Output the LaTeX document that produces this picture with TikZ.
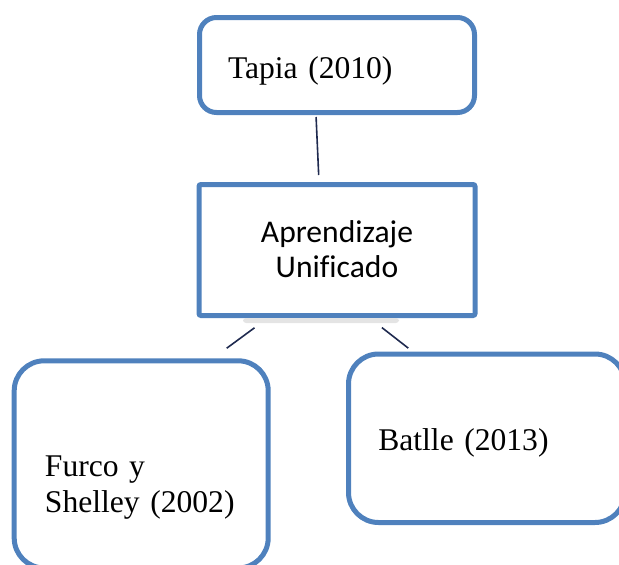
\documentclass[tikz,border=0pt]{standalone}
\usepackage{fontspec}
\setmainfont{Liberation Serif}
\newfontfamily\calibri[Ligatures=NoCommon]{Carlito}
\usepackage{xcolor}
\usepackage{tikz}
\usetikzlibrary{positioning}
\definecolor{boxblue}{HTML}{4F81BD}
\definecolor{linknavy}{HTML}{1F2A4F}
\definecolor{shadowgray}{HTML}{E4E4E4}

\begin{document}
\begin{tikzpicture}[x=1pt, y=-1pt,
  refbox/.style={draw=boxblue, line width=5pt, rounded corners=30pt, align=left, inner ysep=0pt,
    font=\fontsize{31.6}{35.5}\selectfont},
  link/.style={draw=linknavy, line width=1.6pt}]
\useasboundingbox (0,0) rectangle (619,565);
\node[refbox, rounded corners=17pt, minimum width=275pt, minimum height=95pt, text width=218pt,
  inner xsep=28.5pt, text height=30pt, text depth=4pt] (tapia) at (337,65) {Tapia (2010)};
\node[refbox, rounded corners=2pt, align=center, font=\calibri\fontsize{31.6}{34.5}\selectfont,
  minimum width=276pt, minimum height=131pt, text width=236pt, inner xsep=20pt,
  text height=20pt, text depth=34.6pt, below=67pt of tapia] (apr) {Aprendizaje\\Unificado};
\node[refbox, minimum width=254pt, minimum height=207.2pt, text width=192.4pt, inner xsep=30.8pt,
  text height=36pt, text depth=11.4pt] (furco) at (141.2,464.4) {Furco y\\Shelley (2002)};
\node[refbox, minimum width=276.5pt, minimum height=168.5pt, text width=216.9pt, inner xsep=29.8pt,
  text height=28pt, text depth=4.5pt] (batlle) at (486.75,438.25) {Batlle (2013)};
\fill[shadowgray, rounded corners=3pt] ([xshift=-94pt]apr.south) rectangle ([xshift=62pt,yshift=-5pt]apr.south);
\draw[link, shorten <=2pt, shorten >=7pt] ([xshift=-21pt]tapia.south) -- ([xshift=-18pt]apr.north);
\draw[link, shorten <=16.5pt, shorten >=17pt] ([xshift=-69.2pt]apr.south) -- ([xshift=71.8pt]furco.north);
\draw[link, shorten <=15.6pt, shorten >=5.5pt] ([xshift=32.6pt]apr.south) -- ([xshift=-74.15pt]batlle.north);
\end{tikzpicture}
\end{document}
